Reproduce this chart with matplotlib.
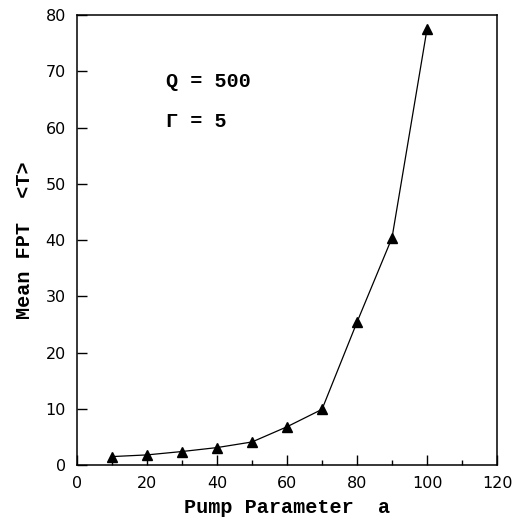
import numpy as np
import matplotlib
matplotlib.use("Agg")
import matplotlib.pyplot as plt
from matplotlib.ticker import MultipleLocator

# pump parameter and mean first passage time
pump = [10, 20, 30, 40, 50, 60, 70, 80, 90, 100]
mean_fpt = [1.5, 1.8, 2.4, 3.1, 4.1, 6.8, 9.9, 25.4, 40.4, 77.5]

fig = plt.figure(figsize=(5.26, 5.27), dpi=100)
ax = fig.add_axes([0.1464, 0.1176, 0.7985, 0.8539])

ax.plot(pump, mean_fpt, color="black", lw=0.9, marker="^", ms=6.5,
        markerfacecolor="black", markeredgecolor="black")

ax.set_xlim(0, 120)
ax.set_ylim(0, 80)
ax.xaxis.set_major_locator(MultipleLocator(20))
ax.xaxis.set_minor_locator(MultipleLocator(10))
ax.yaxis.set_major_locator(MultipleLocator(10))
ax.tick_params(axis="both", which="major", direction="in", length=7, width=1,
               labelsize=11.5, pad=8)
ax.tick_params(axis="x", which="minor", direction="in", length=3.5, width=1)
ax.tick_params(top=False, right=False)
for s in ax.spines.values():
    s.set_linewidth(1.1)

ax.set_xlabel("Pump Parameter  a", family="Liberation Mono", weight="bold",
              fontsize=14.5, labelpad=5)
ax.set_ylabel("Mean FPT  <T>", family="Liberation Mono", weight="bold",
              fontsize=14.5, labelpad=8)

ax.text(25.5, 68.2, "Q = 500", family="Liberation Mono", weight="bold",
        fontsize=14.5, va="center")
ax.text(25.5, 61, "\u0393 = 5", family="Liberation Mono", weight="bold",
        fontsize=14.5, va="center")

fig.savefig("out.png", dpi=100)
